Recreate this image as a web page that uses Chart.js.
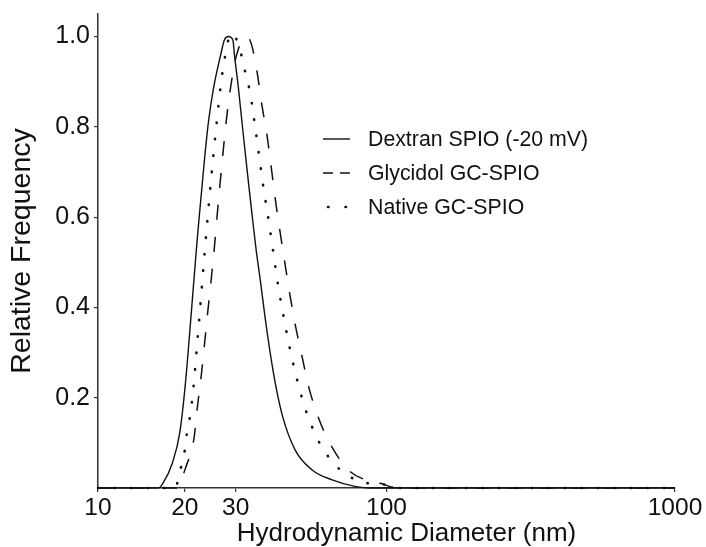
<!DOCTYPE html>
<html>
<head>
<meta charset="utf-8">
<script src="https://cdn.jsdelivr.net/npm/chart.js@4.4.1/dist/chart.umd.min.js"></script>
<style>
  html, body { margin: 0; padding: 0; background: #fff; }
  #wrap { width: 706px; height: 547px; }
</style>
</head>
<body>
<div id="wrap"><canvas id="sizeChart" width="706" height="547"></canvas></div>
<script>
// size distributions (diameter in nm, normalised frequency)
const dextranX = [10, 16.2, 16.8, 18.1, 19.2, 20.1, 21.0, 21.92, 22.38, 22.93, 23.51, 24.19, 25.2, 26.7, 27.4, 28.3,
                  29.36, 29.67, 30.63, 31.5, 32.39, 33.36, 34.36, 35.34, 36.64, 37.92, 39.38, 41.14, 43.66, 48.25, 55.23, 64.79, 78.4, 88, 1000];
const dextranY = [0, 0, 0.011, 0.055, 0.122, 0.233, 0.379, 0.527, 0.594, 0.667, 0.742, 0.815, 0.889, 0.963, 0.992, 1.0,
                  0.992, 0.963, 0.889, 0.815, 0.742, 0.667, 0.594, 0.527, 0.454, 0.379, 0.306, 0.233, 0.158, 0.084, 0.040, 0.018, 0.003, 0, 0];

const glycidolX = [10, 18.9, 19.5, 20.1, 21.5, 22.1, 22.8, 23.4, 24.0, 24.6, 25.3, 25.85, 26.45, 27.1, 27.8, 28.7, 30.1, 32.8,
                   34.1, 35.6, 37.0, 38.6, 39.9, 41.2, 42.7, 44.4, 46.2, 48.3, 50.9, 53.8, 58.3, 64.8, 74.9, 95.7, 109.6, 1000];
const glycidolY = [0, 0, 0.02, 0.044, 0.109, 0.179, 0.249, 0.319, 0.389, 0.453, 0.531, 0.600, 0.670, 0.740, 0.810, 0.880, 0.955, 1.0,
                   0.981, 0.921, 0.848, 0.778, 0.708, 0.638, 0.570, 0.500, 0.430, 0.361, 0.293, 0.223, 0.153, 0.090, 0.036, 0.010, 0, 0];

const nativeX = [10, 18.6, 19.0, 19.6, 20.1, 20.4, 20.9, 21.5, 21.96, 22.43, 22.9, 23.38, 23.89, 24.43, 25.02, 25.67, 26.37, 27.31, 29.0,
                 30.9, 31.8, 32.8, 33.7, 35.0, 36.2, 37.5, 39.0, 40.5, 42.0, 43.9, 46.1, 48.8, 52.2, 57.5, 61.2, 66.4, 72.8, 81.6, 105.6, 112, 1000];
const nativeY = [0, 0, 0.024, 0.058, 0.093, 0.128, 0.163, 0.233, 0.304, 0.374, 0.445, 0.516, 0.586, 0.656, 0.726, 0.798, 0.868, 0.941, 1.007,
                 0.977, 0.943, 0.907, 0.874, 0.803, 0.734, 0.663, 0.594, 0.523, 0.453, 0.383, 0.313, 0.244, 0.177, 0.110, 0.080, 0.051, 0.029, 0.014, 0.005, 0, 0];

const seriesNames = ['Dextran SPIO (-20 mV)', 'Glycidol GC-SPIO', 'Native GC-SPIO'];
const xTitle = 'Hydrodynamic Diameter (nm)';
const xTickValues = [10, 20, 30, 100, 1000];
const yTickValues = [0.2, 0.4, 0.6, 0.8, 1.0];

const FONT = '"Liberation Sans", Arial, sans-serif';
const INK = '#111';

function toPoints(xs, ys) {
    return xs.map((x, i) => ({ x: x, y: ys[i] }));
}

// legend sits inside the plot, to the right of the peaks;
// the x title is a bit right of centre in the original, so it is drawn here too
const legendDashes = [[], [10, 7], [0.5, 17]];
const inlineLegend = {
    id: 'inlineLegend',
    afterDraw(chart) {
        const ctx = chart.ctx;
        ctx.save();
        ctx.font = '21.3px ' + FONT;
        ctx.fillStyle = INK;
        ctx.textBaseline = 'middle';
        chart.data.datasets.forEach((ds, i) => {
            const y = 139 + i * 34;
            ctx.beginPath();
            ctx.strokeStyle = INK;
            ctx.lineWidth = ds.borderWidth;
            ctx.lineCap = ds.borderCapStyle || 'butt';
            ctx.setLineDash(legendDashes[i]);
            ctx.moveTo(i === 2 ? 328 : 323, y);
            ctx.lineTo(350, y);
            ctx.stroke();
            ctx.setLineDash([]);
            ctx.fillText(ds.label, 368, y + 1);
        });

        ctx.font = '26px ' + FONT;
        ctx.textAlign = 'center';
        ctx.textBaseline = 'alphabetic';
        ctx.fillText(xTitle, 406.5, 541);
        ctx.restore();
    }
};

const ctx = document.getElementById('sizeChart').getContext('2d');
const sizeChart = new Chart(ctx, {
    type: 'line',
    data: {
        datasets: [{
            label: seriesNames[0],
            data: toPoints(dextranX, dextranY),
            borderColor: INK,
            borderWidth: 1.4,
        }, {
            label: seriesNames[1],
            data: toPoints(glycidolX, glycidolY),
            borderColor: INK,
            borderWidth: 1.5,
            borderDash: [15, 17],
        }, {
            label: seriesNames[2],
            data: toPoints(nativeX, nativeY),
            borderColor: INK,
            borderWidth: 2.6,
            borderDash: [0.5, 16],
            borderCapStyle: 'round',
        }]
    },
    options: {
        responsive: false,
        animation: false,
        devicePixelRatio: 1,
        layout: { padding: { left: 0, right: 31, top: 14, bottom: 0 } },
        elements: {
            point: { radius: 0 },
            line: { cubicInterpolationMode: 'monotone', fill: false }
        },
        datasets: { line: { clip: false } },
        plugins: {
            legend: { display: false },
            tooltip: { enabled: false }
        },
        scales: {
            x: {
                type: 'logarithmic',
                min: 10,
                max: 1000,
                afterBuildTicks: s => { s.ticks = xTickValues.map(v => ({ value: v })); },
                afterFit: s => { s.height = 59; s.paddingLeft = 0; s.paddingRight = 0; },
                ticks: {
                    callback: v => String(v),
                    autoSkip: false,
                    maxRotation: 0,
                    padding: 2,
                    color: INK,
                    font: { family: FONT, size: 24.5 }
                },
                grid: { display: true, drawOnChartArea: false, drawTicks: true, tickLength: 4, color: '#333', lineWidth: 1.2 },
                border: { display: true, color: '#333', width: 1.5 },
                title: { display: false }
            },
            y: {
                min: 0,
                max: 1.05,
                afterBuildTicks: s => { s.ticks = yTickValues.map(v => ({ value: v })); },
                afterFit: s => { s.width = 98; s.paddingTop = 0; s.paddingBottom = 0; },
                ticks: {
                    callback: v => Number(v).toFixed(1),
                    padding: 4,
                    color: INK,
                    font: { family: FONT, size: 25 }
                },
                grid: { display: true, drawOnChartArea: false, drawTicks: true, tickLength: 4, color: '#333', lineWidth: 1.2 },
                border: { display: true, color: '#333', width: 1.5 },
                title: {
                    display: true,
                    text: 'Relative Frequency',
                    color: INK,
                    font: { family: FONT, size: 28.5 },
                    padding: { top: 5, bottom: 0 }
                }
            }
        }
    },
    plugins: [inlineLegend]
});
</script>
</body>
</html>
